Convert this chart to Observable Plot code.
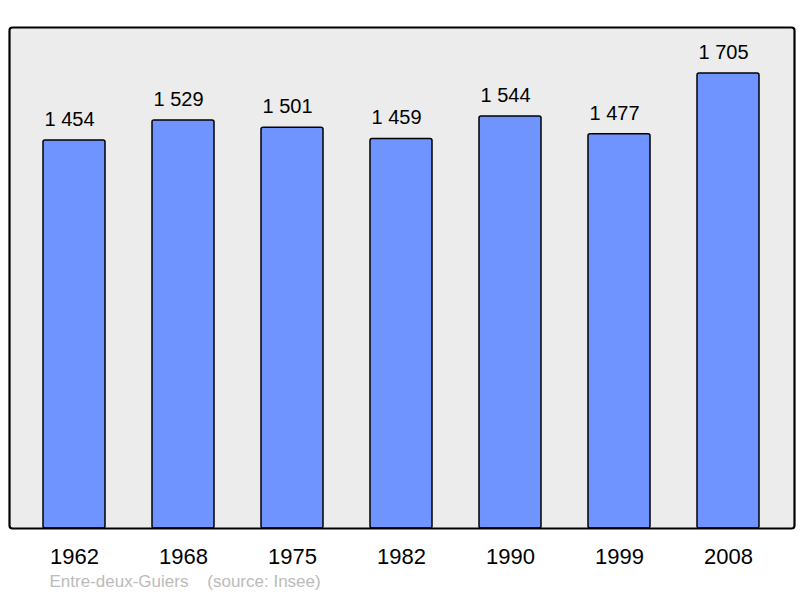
<!DOCTYPE html>
<html>
<head>
<meta charset="utf-8">
<script src="https://cdn.jsdelivr.net/npm/d3@7"></script>
<script src="https://cdn.jsdelivr.net/npm/@observablehq/plot@0.6"></script>
<style>
html,body{margin:0;padding:0;background:#fff;}
svg{display:block;}
</style>
</head>
<body>
<div id="chart"></div>
<script>
const years = ["1962","1968","1975","1982","1990","1999","2008"];
const population = [1454,1529,1501,1459,1544,1477,1705];
const labels = ["1 454","1 529","1 501","1 459","1 544","1 477","1 705"];
const caption = "Entre-deux-Guiers\u00a0\u00a0\u00a0\u00a0(source: Insee)";

const data = years.map((y,i)=>({year:y, pop:population[i], label:labels[i]}));

const chart = Plot.plot({
  width: 800,
  height: 598,
  marginTop: 27,
  marginBottom: 70,
  marginLeft: 9,
  marginRight: 6,
  style: {fontFamily: "'Liberation Sans', Arial, sans-serif", background: "#fff"},
  x: {domain: years, range: [18.5, 783.8], paddingInner: 0.43, paddingOuter: 0.215, axis: null},
  y: {domain: [0, 1877], axis: null},
  marks: [
    Plot.frame({fill: "#ececec", stroke: "none"}),
    Plot.barY(data, {x: "year", y: "pop", fill: "#7094ff", stroke: "#000", strokeWidth: 1.5, rx: 2}),
    Plot.text(data, {x: "year", y: "pop", text: "label", dy: -21, dx: -5, fontSize: 20, fill: "#000"}),
    Plot.axisX({tickSize: 0, tickPadding: 20, fontSize: 22, color: "#000", label: null}),
    Plot.text([caption], {frameAnchor: "bottom-left", text: d=>d, dx: 40, dy: 58, fontSize: 17, fill: "#bbb", textAnchor: "start"}),
    Plot.frame({fill: "none", stroke: "#000", strokeWidth: 2.2, rx: 3})
  ]
});
document.getElementById("chart").append(chart);
</script>
</body>
</html>
